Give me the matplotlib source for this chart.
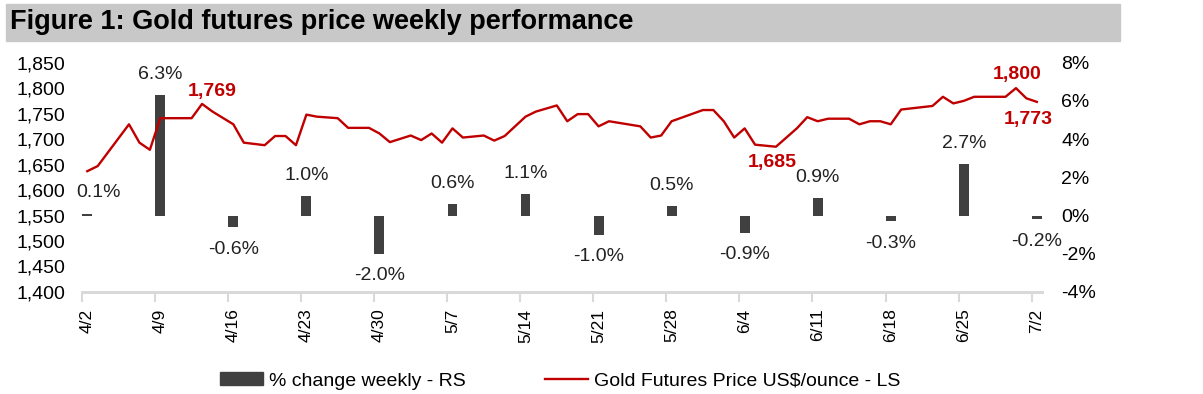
import pandas as pd
import matplotlib
matplotlib.use("Agg")
import matplotlib.pyplot as plt
import matplotlib.dates as mdates
from matplotlib.patches import Rectangle
from matplotlib.ticker import FuncFormatter, FixedLocator

plt.rcParams['font.family'] = ['Liberation Sans', 'DejaVu Sans']

# Weekly % change (right scale)
week_dates = ['4/2', '4/9', '4/16', '4/23', '4/30', '5/7', '5/14',
              '5/21', '5/28', '6/4', '6/11', '6/18', '6/25', '7/2']
week_change = [0.1, 6.3, -0.6, 1.0, -2.0, 0.6, 1.1,
               -1.0, 0.5, -0.9, 0.9, -0.3, 2.7, -0.2]

# Gold futures price (left scale)
price_dates = ['4/2', '4/3', '4/6', '4/7', '4/8', '4/9', '4/12', '4/13', '4/14',
               '4/16', '4/17', '4/19', '4/20', '4/21', '4/22', '4/23', '4/24',
               '4/26', '4/27', '4/29', '4/30', '5/1', '5/3', '5/4', '5/5', '5/6',
               '5/7', '5/8', '5/10', '5/11', '5/12', '5/13', '5/14', '5/15',
               '5/17', '5/18', '5/19', '5/20', '5/21', '5/22', '5/25', '5/26',
               '5/27', '5/28', '5/31', '6/1', '6/2', '6/3', '6/4', '6/5', '6/7',
               '6/9', '6/10', '6/11', '6/12', '6/14', '6/15', '6/16', '6/17',
               '6/18', '6/19', '6/22', '6/23', '6/24', '6/25', '6/26', '6/29',
               '6/30', '7/1', '7/2']
price_values = [1637, 1647, 1729, 1693, 1679, 1741, 1741, 1769, 1754,
                1729, 1693, 1688, 1706, 1706, 1688, 1748, 1744,
                1741, 1722, 1722, 1711, 1694, 1707, 1698, 1711, 1693,
                1721, 1703, 1707, 1697, 1706, 1725, 1744, 1754,
                1766, 1735, 1749, 1749, 1725, 1735, 1725, 1703,
                1707, 1735, 1757, 1757, 1735, 1703, 1721, 1689, 1685,
                1721, 1743, 1735, 1740, 1740, 1729, 1735, 1735,
                1729, 1758, 1765, 1783, 1770, 1775, 1783, 1783,
                1800, 1780, 1773]

# labelled price points and label offsets (points)
price_labels = {'4/13': (7, 9), '6/7': (-3, -11), '6/30': (1, 10), '7/2': (-6, -13)}

red = '#C00000'
bar_col = '#404040'

wk = pd.to_datetime([d + '/2020' for d in week_dates])
px = pd.to_datetime([d + '/2020' for d in price_dates])

fig = plt.figure(figsize=(12.03, 3.94), dpi=100)
ax = fig.add_axes([0.0682, 0.259, 0.798, 0.582])
ax2 = ax.twinx()

ax2.bar(wk, week_change, width=0.95, color=bar_col, zorder=2)
ax.plot(px, price_values, color=red, lw=1.7, zorder=3)

ax.set_zorder(ax2.get_zorder() + 1)
ax.patch.set_visible(False)

half = pd.Timedelta(hours=12)
ax.set_xlim(wk[0] - half, wk[-1] + half)
ax.set_ylim(1400, 1850)
ax.set_yticks(range(1400, 1851, 50))
ax.yaxis.set_major_formatter(FuncFormatter(lambda v, p: f'{v:,.0f}'))
ax2.set_ylim(-4, 8)
ax2.set_yticks(range(-4, 9, 2))
ax2.yaxis.set_major_formatter(FuncFormatter(lambda v, p: f'{v:.0f}%'))

ax.xaxis.set_major_locator(FixedLocator(mdates.date2num(wk)))
ax.set_xticklabels(week_dates, rotation=90, fontsize=12.5)
ax.xaxis.set_minor_locator(FixedLocator(mdates.date2num(wk - half)))
ax.tick_params(axis='x', which='major', length=0, pad=12)
ax.tick_params(axis='x', which='minor', length=7, width=1.5, color='#D9D9D9')
ax.tick_params(axis='y', length=0, labelsize=14, pad=12)
ax2.tick_params(axis='y', length=0, labelsize=14, pad=14)

for a in (ax, ax2):
    for s in ('top', 'left', 'right'):
        a.spines[s].set_visible(False)
    a.spines['bottom'].set_color('#D9D9D9')
    a.spines['bottom'].set_linewidth(2)

# bar labels
for i, (d, v) in enumerate(zip(wk, week_change)):
    dx = 8 if i == 0 else 0
    dy = 15 if v > 0 else -16
    ax2.annotate(f'{v:.1f}%', (d, v), xytext=(dx, dy), textcoords='offset points',
                 ha='center', va='center', fontsize=14, color='#222222')

# price labels
for d, (dx, dy) in price_labels.items():
    v = price_values[price_dates.index(d)]
    ax.annotate(f'{v:,}', (pd.to_datetime(d + '/2020'), v), xytext=(dx, dy),
                textcoords='offset points', ha='center', va='center',
                fontsize=14, fontweight='bold', color=red)

# title bar
fig.patches.append(Rectangle((6 / 1203, 1 - 41 / 394), 1114 / 1203, 37 / 394,
                             transform=fig.transFigure, color='#C8C8C8', zorder=0))
fig.text(10 / 1203, 1 - 22 / 394, 'Figure 1: Gold futures price weekly performance',
         fontsize=19.5, fontweight='bold', va='center', ha='left')

handles = [Rectangle((0, 0), 1, 1, color=bar_col),
           plt.Line2D([], [], color=red, lw=1.7)]
fig.legend(handles, ['% change weekly - RS', 'Gold Futures Price US$/ounce - LS'],
           loc='center', bbox_to_anchor=(0.4655, 1 - 381 / 394), ncol=2, frameon=False,
           fontsize=14, handlelength=2.2, handleheight=0.6, columnspacing=4.1,
           handletextpad=0.3)

fig.savefig('out.png', dpi=100)
